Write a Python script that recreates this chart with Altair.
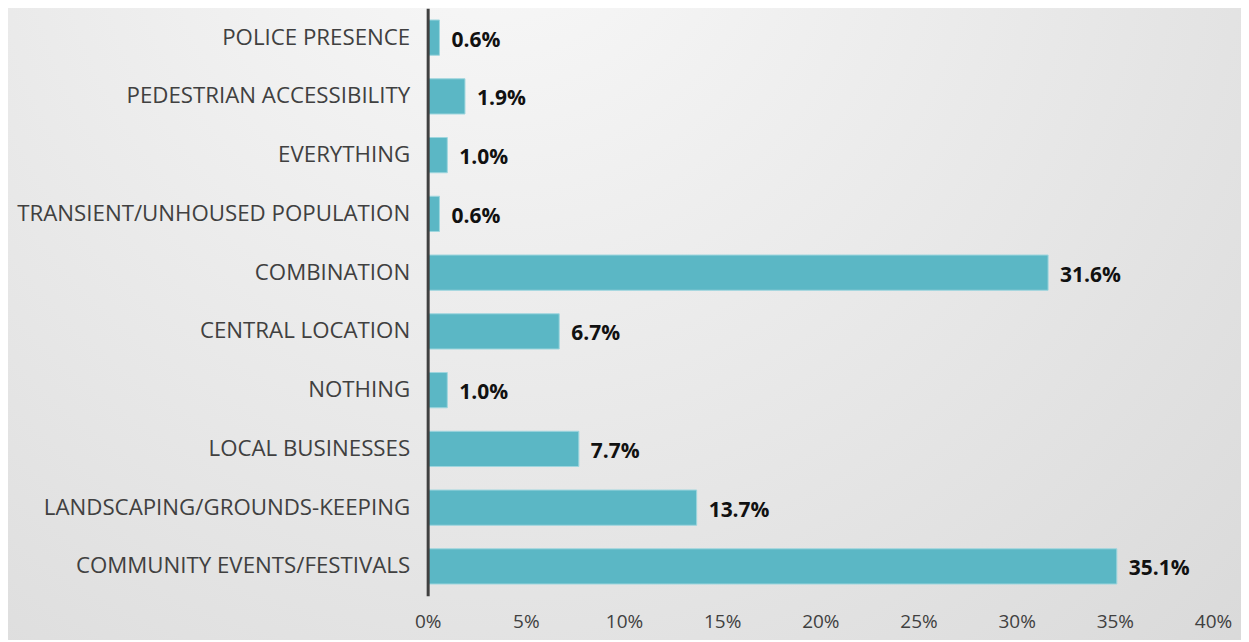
import altair as alt
import pandas as pd

categories = [
    "POLICE PRESENCE",
    "PEDESTRIAN ACCESSIBILITY",
    "EVERYTHING",
    "TRANSIENT/UNHOUSED POPULATION",
    "COMBINATION",
    "CENTRAL LOCATION",
    "NOTHING",
    "LOCAL BUSINESSES",
    "LANDSCAPING/GROUNDS-KEEPING",
    "COMMUNITY EVENTS/FESTIVALS",
]
values = [0.6, 1.9, 1.0, 0.6, 31.6, 6.7, 1.0, 7.7, 13.7, 35.1]
tick_values = [0, 5, 10, 15, 20, 25, 30, 35, 40]

df = pd.DataFrame({"category": categories, "value": values})
df["label"] = [f"{v:.1f}%" for v in values]

W, H = 786, 588

bg = alt.Chart(pd.DataFrame({"a": [0]})).mark_rect(
    color=alt.RadialGradient(
        gradient="radial",
        x1=0.4, y1=0.15, r1=0,
        x2=0.4, y2=0.15, r2=1.0,
        stops=[
            alt.GradientStop(offset=0, color="#f9f9f9"),
            alt.GradientStop(offset=1, color="#d4d4d4"),
        ],
    )
).encode(
    x=alt.value(-430), x2=alt.value(W + 40),
    y=alt.value(-10), y2=alt.value(H + 50),
)

base = alt.Chart(df)

y_enc = alt.Y(
    "category:N",
    sort=categories,
    scale=alt.Scale(paddingInner=0.4, paddingOuter=0.2),
    axis=alt.Axis(
        title=None,
        ticks=False,
        labelFont="Open Sans",
        labelFontSize=22.3,
        labelColor="#404040",
        labelPadding=18,
        domain=True,
        domainColor="#404040",
        domainWidth=3,
        labelLimit=420,
        zindex=1,
    ),
)
x_enc = alt.X(
    "value:Q",
    scale=alt.Scale(domain=[0, 40], nice=False),
    axis=alt.Axis(
        title=None,
        values=tick_values,
        labelExpr="datum.value + '%'",
        labelFlush=False,
        ticks=False,
        domain=False,
        grid=False,
        labelFont="Open Sans",
        labelFontSize=19,
        labelColor="#404040",
        labelPadding=17,
        zindex=1,
    ),
)

bars = base.mark_bar(color="#5bb7c5", stroke="#9fd6de", strokeWidth=1).encode(
    x=x_enc, y=y_enc
)

texts = base.mark_text(
    align="left", baseline="middle", dx=12, dy=3,
    font="Open Sans", fontSize=21, fontWeight="bold", color="#111111",
).encode(x="value:Q", y=alt.Y("category:N", sort=categories), text="label:N")

chart = alt.layer(bg, bars, texts).properties(
    width=W, height=H,
    autosize=alt.AutoSizeParams(type="none"),
    padding={"left": 420, "top": 0, "right": 28, "bottom": 44},
).configure_view(stroke=None).configure(background="#e4e4e4")

chart.save("out.html", embed_options={"renderer": "svg", "actions": False})
